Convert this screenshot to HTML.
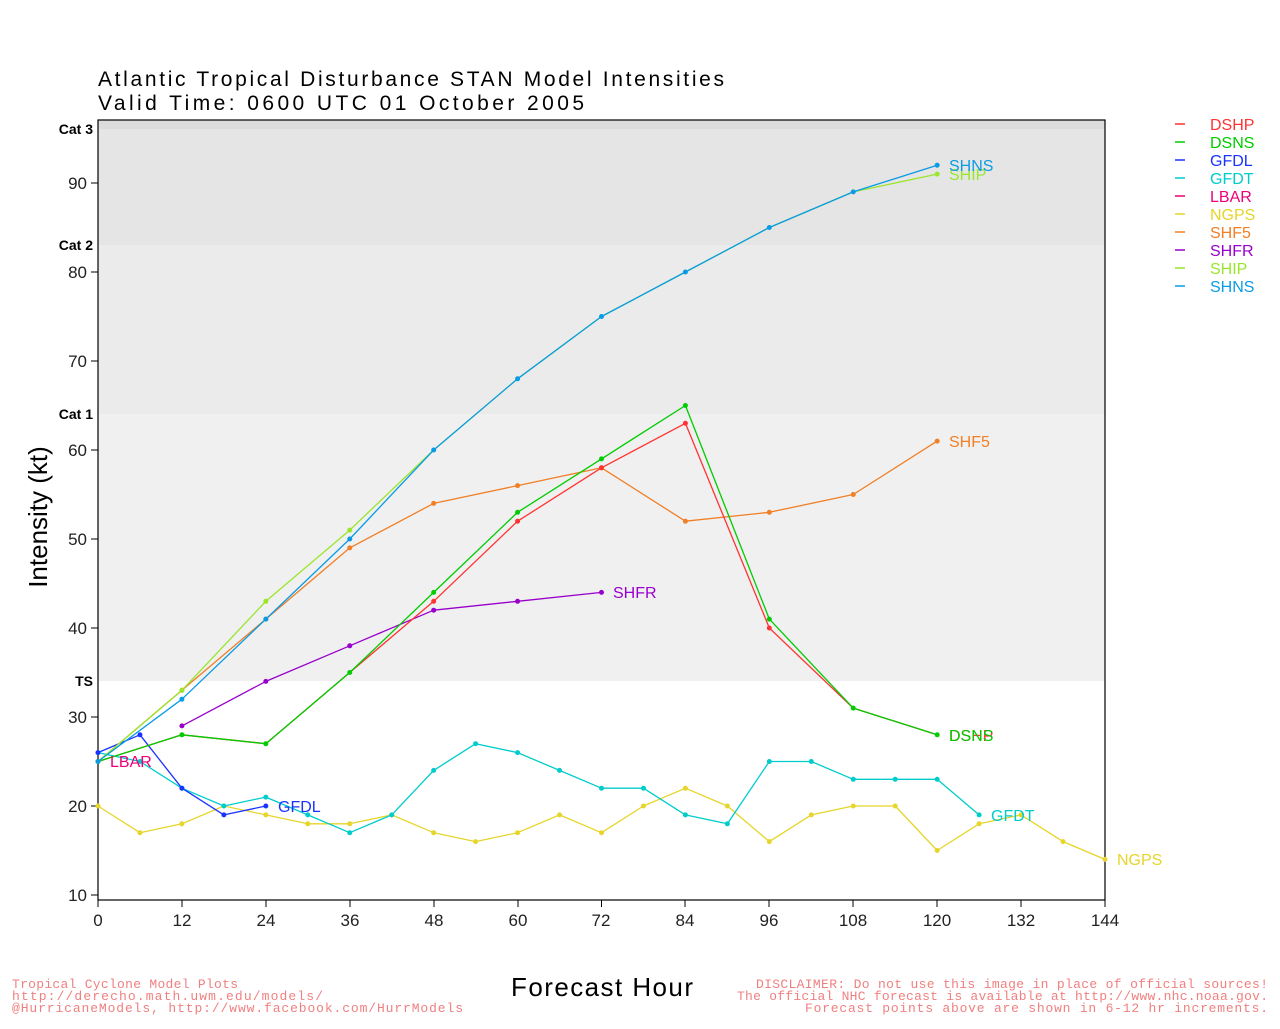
<!DOCTYPE html>
<html><head><meta charset="utf-8"><style>
body{margin:0;background:#fff;width:1280px;height:1024px;overflow:hidden}
svg{font-family:"Liberation Sans",sans-serif}
</style></head><body>
<svg width="1280" height="1024" xmlns="http://www.w3.org/2000/svg">
<rect x="98" y="120" width="1007" height="780" fill="#fff"/>
<rect x="98" y="120" width="1007" height="9" fill="#dcdcdc"/>
<rect x="98" y="129" width="1007" height="116" fill="#e5e5e5"/>
<rect x="98" y="245" width="1007" height="169" fill="#ebebeb"/>
<rect x="98" y="414" width="1007" height="267" fill="#f0f0f0"/>
<rect x="98" y="120" width="1007" height="780" fill="none" stroke="#000" stroke-width="1.2"/>
<g font-size="21" fill="#000">
<text x="98" y="86" textLength="626" lengthAdjust="spacing">Atlantic Tropical Disturbance STAN Model Intensities</text>
<text x="98" y="110" textLength="486" lengthAdjust="spacing">Valid Time: 0600 UTC 01 October 2005</text>
</g>
<g font-size="14" font-weight="bold" text-anchor="end">
<text x="93" y="134">Cat 3</text><text x="93" y="250">Cat 2</text><text x="93" y="419">Cat 1</text><text x="93" y="686">TS</text>
</g>
<g font-size="17" fill="#222" text-anchor="end">
<text x="87" y="189">90</text><text x="87" y="278">80</text><text x="87" y="367">70</text><text x="87" y="456">60</text><text x="87" y="545">50</text><text x="87" y="634">40</text><text x="87" y="723">30</text><text x="87" y="812">20</text><text x="87" y="901">10</text>
</g>
<g stroke="#000"><path d="M91 183h7M91 272h7M91 361h7M91 450h7M91 539h7M91 628h7M91 717h7M91 806h7M91 895h7M98 900v7M182 900v7M266 900v7M350 900v7M434 900v7M518 900v7M601.5 900v7M685 900v7M769 900v7M853 900v7M937 900v7M1021 900v7M1105 900v7"/></g>
<g font-size="17" fill="#222" text-anchor="middle">
<text x="98" y="926">0</text><text x="182" y="926">12</text><text x="266" y="926">24</text><text x="350" y="926">36</text><text x="434" y="926">48</text><text x="518" y="926">60</text><text x="601" y="926">72</text><text x="685" y="926">84</text><text x="769" y="926">96</text><text x="853" y="926">108</text><text x="937" y="926">120</text><text x="1021" y="926">132</text><text x="1105" y="926">144</text>
</g>
<text x="511" y="996" font-size="26" textLength="182" lengthAdjust="spacing">Forecast Hour</text>
<text transform="translate(47,517) rotate(-90)" font-size="26" text-anchor="middle">Intensity (kt)</text>
<g transform="translate(98,984) scale(6.993,-8.9)" fill="none" stroke-width="1.3" stroke-linejoin="round">
<g>
<polyline vector-effect="non-scaling-stroke" stroke="#e6d52a" points="0,20 6,17 12,18 18,20 24,19 30,18 36,18 42,19 48,17 54,16 60,17 66,19 72,17 78,20 84,22 90,20 96,16 102,19 108,20 114,20 120,15 126,18 132,19 138,16 144,14"/>
<polyline vector-effect="non-scaling-stroke" stroke="#00cccc" points="0,26 6,25 12,22 18,20 24,21 30,19 36,17 42,19 48,24 54,27 60,26 66,24 72,22 78,22 84,19 90,18 96,25 102,25 108,23 114,23 120,23 126,19"/>
<polyline vector-effect="non-scaling-stroke" stroke="#1a33ff" points="0,26 6,28 12,22 18,19 24,20"/>
<polyline vector-effect="non-scaling-stroke" stroke="#9900cc" points="12,29 24,34 36,38 48,42 60,43 72,44"/>
<polyline vector-effect="non-scaling-stroke" stroke="#f07f26" points="0,25 12,33 24,41 36,49 48,54 60,56 72,58 84,52 96,53 108,55 120,61"/>
<polyline vector-effect="non-scaling-stroke" stroke="#ff3333" points="0,25 12,28 24,27 36,35 48,43 60,52 72,58 84,63 96,40 108,31 120,28"/>
<polyline vector-effect="non-scaling-stroke" stroke="#00cc00" points="0,25 12,28 24,27 36,35 48,44 60,53 72,59 84,65 96,41 108,31 120,28"/>
<polyline vector-effect="non-scaling-stroke" stroke="#99e62b" points="0,25 12,33 24,43 36,51 48,60 60,68 72,75 84,80 96,85 108,89 120,91"/>
<polyline vector-effect="non-scaling-stroke" stroke="#0a9be6" points="0,25 12,32 24,41 36,50 48,60 60,68 72,75 84,80 96,85 108,89 120,92"/>
</g>
<g stroke-width="5" stroke-linecap="round">
<path vector-effect="non-scaling-stroke" stroke="#e6d52a" d="M0 20l0 0M6 17l0 0M12 18l0 0M18 20l0 0M24 19l0 0M30 18l0 0M36 18l0 0M42 19l0 0M48 17l0 0M54 16l0 0M60 17l0 0M66 19l0 0M72 17l0 0M78 20l0 0M84 22l0 0M90 20l0 0M96 16l0 0M102 19l0 0M108 20l0 0M114 20l0 0M120 15l0 0M126 18l0 0M132 19l0 0M138 16l0 0M144 14l0 0"/>
<path vector-effect="non-scaling-stroke" stroke="#00cccc" d="M0 26l0 0M6 25l0 0M12 22l0 0M18 20l0 0M24 21l0 0M30 19l0 0M36 17l0 0M42 19l0 0M48 24l0 0M54 27l0 0M60 26l0 0M66 24l0 0M72 22l0 0M78 22l0 0M84 19l0 0M90 18l0 0M96 25l0 0M102 25l0 0M108 23l0 0M114 23l0 0M120 23l0 0M126 19l0 0"/>
<path vector-effect="non-scaling-stroke" stroke="#1a33ff" d="M0 26l0 0M6 28l0 0M12 22l0 0M18 19l0 0M24 20l0 0"/>
<path vector-effect="non-scaling-stroke" stroke="#9900cc" d="M12 29l0 0M24 34l0 0M36 38l0 0M48 42l0 0M60 43l0 0M72 44l0 0"/>
<path vector-effect="non-scaling-stroke" stroke="#f07f26" d="M0 25l0 0M12 33l0 0M24 41l0 0M36 49l0 0M48 54l0 0M60 56l0 0M72 58l0 0M84 52l0 0M96 53l0 0M108 55l0 0M120 61l0 0"/>
<path vector-effect="non-scaling-stroke" stroke="#ff3333" d="M48 43l0 0M60 52l0 0M72 58l0 0M84 63l0 0M96 40l0 0"/>
<path vector-effect="non-scaling-stroke" stroke="#00cc00" d="M0 25l0 0M12 28l0 0M24 27l0 0M36 35l0 0M48 44l0 0M60 53l0 0M72 59l0 0M84 65l0 0M96 41l0 0M108 31l0 0M120 28l0 0"/>
<path vector-effect="non-scaling-stroke" stroke="#99e62b" d="M12 33l0 0M24 43l0 0M36 51l0 0M120 91l0 0"/>
<path vector-effect="non-scaling-stroke" stroke="#0a9be6" d="M0 25l0 0M12 32l0 0M24 41l0 0M36 50l0 0M48 60l0 0M60 68l0 0M72 75l0 0M84 80l0 0M96 85l0 0M108 89l0 0M120 92l0 0"/>
</g>
</g>
<g font-size="16">
<text x="110" y="767" fill="#ee0077">LBAR</text>
<text x="278" y="812" fill="#1a33ff">GFDL</text>
<text x="613" y="598" fill="#9900cc">SHFR</text>
<text x="949" y="447" fill="#f07f26">SHF5</text>
<text x="949" y="180" fill="#99e62b">SHIP</text>
<text x="949" y="171" fill="#0a9be6">SHNS</text>
<text x="949" y="741" fill="#ff3333">DSHP</text>
<text x="949" y="741" fill="#00cc00">DSNS</text>
<text x="991" y="821" fill="#00cccc">GFDT</text>
<text x="1117" y="865" fill="#e6d52a">NGPS</text>
</g>
<g font-size="16">
<text x="1210" y="130" fill="#ff3333">DSHP</text>
<text x="1210" y="148" fill="#00cc00">DSNS</text>
<text x="1210" y="166" fill="#1a33ff">GFDL</text>
<text x="1210" y="184" fill="#00cccc">GFDT</text>
<text x="1210" y="202" fill="#ee0077">LBAR</text>
<text x="1210" y="220" fill="#e6d52a">NGPS</text>
<text x="1210" y="238" fill="#f07f26">SHF5</text>
<text x="1210" y="256" fill="#9900cc">SHFR</text>
<text x="1210" y="274" fill="#99e62b">SHIP</text>
<text x="1210" y="292" fill="#0a9be6">SHNS</text>
</g>
<g stroke-width="1.5">
<path d="M1175 124h10" stroke="#ff3333"/><path d="M1175 142h10" stroke="#00cc00"/><path d="M1175 160h10" stroke="#1a33ff"/><path d="M1175 178h10" stroke="#00cccc"/><path d="M1175 196h10" stroke="#ee0077"/><path d="M1175 214h10" stroke="#e6d52a"/><path d="M1175 232h10" stroke="#f07f26"/><path d="M1175 250h10" stroke="#9900cc"/><path d="M1175 268h10" stroke="#99e62b"/><path d="M1175 286h10" stroke="#0a9be6"/>
</g>
<g font-size="13" fill="#f08080" font-family="Liberation Mono,monospace">
<text x="12" y="988" textLength="226" lengthAdjust="spacing">Tropical Cyclone Model Plots</text>
<text x="12" y="1000" textLength="311" lengthAdjust="spacing">http://derecho.math.uwm.edu/models/</text>
<text x="12" y="1012" textLength="451" lengthAdjust="spacing">@HurricaneModels, http://www.facebook.com/HurrModels</text>
<text x="756" y="988" textLength="512" lengthAdjust="spacing">DISCLAIMER: Do not use this image in place of official sources!</text>
<text x="737" y="1000" textLength="531" lengthAdjust="spacing">The official NHC forecast is available at http://www.nhc.noaa.gov.</text>
<text x="805" y="1012" textLength="463" lengthAdjust="spacing">Forecast points above are shown in 6-12 hr increments.</text>
</g>
</svg>
</body></html>
